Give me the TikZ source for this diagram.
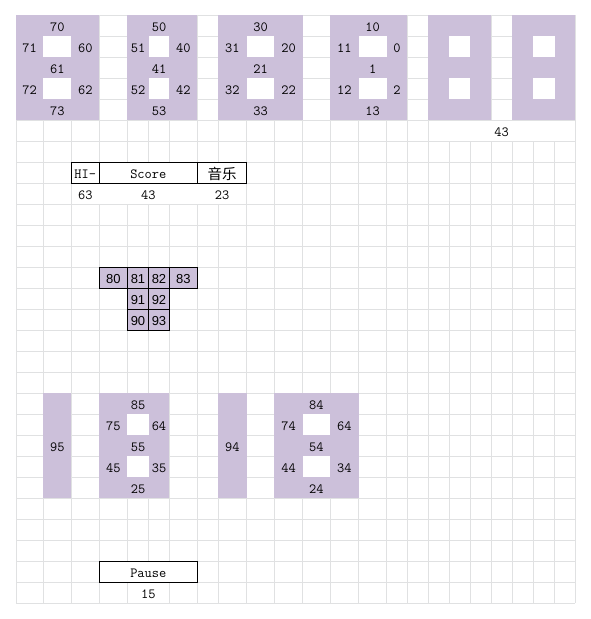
\documentclass[tikz,border=0pt]{standalone}
\usepackage{fontspec}
\usetikzlibrary{calc}
\newfontfamily\cellfont{Latin Modern Mono}
\newfontfamily\blockfont{Liberation Sans}
\newfontfamily\cjkfont{Noto Sans CJK SC}
\definecolor{gridc}{RGB}{224,225,226}
\definecolor{purp}{RGB}{204,192,218}
\tikzset{
  gridline/.style={draw=gridc, line width=1pt},
  seg/.style={fill=purp},
  hole/.style={fill=white},
  erase/.style={fill=white},
  boxline/.style={draw=black, line width=1pt},
  blockcell/.style={fill=purp, draw=black, line width=1pt},
  lbl/.style={anchor=base, inner sep=0pt, text=black, font=\cellfont\fontsize{14}{14}\selectfont},
  blbl/.style={anchor=base, inner sep=0pt, text=black, font=\blockfont\fontsize{13}{13}\selectfont},
  clbl/.style={anchor=base, inner sep=0pt, text=black, font=\cjkfont\fontsize{14.5}{14.5}\selectfont},
}
\newcommand\lab[5]{\node[lbl] (#1) at ($(X#2|-Y#4)!0.5!(X#3|-Y#4)+(0,16.3)$) {#5};}
\newcommand\blab[5]{\node[blbl] (#1) at ($(X#2|-Y#4)!0.5!(X#3|-Y#4)+(0,16.5)$) {#5};}
\begin{document}
\begin{tikzpicture}[x=1pt,y=-1pt]
\useasboundingbox[fill=white] (0,0) rectangle (591,619);
% column edges and row edges
\foreach \v [count=\i from 0] in {16,43.3,71.3,99.3,127.3,148.7,169.3,197.3,218,246.7,274.3,302.7,330,358.7,386.7,407.3,428,449.3,470,491.3,512,533.3,554.7,575.3}
  {\coordinate (X\i) at (\v,0);}
\foreach \j in {0,...,28}
  {\coordinate (Y\j) at (0,{15.3+21*\j});}
% grid
\foreach \i in {0,...,23} {\draw[gridline] (X\i|-Y0) -- (X\i|-Y28);}
\foreach \j in {0,...,28} {\draw[gridline] (X0|-Y\j) -- (X23|-Y\j);}
% merged cells (hide inner grid lines)
\fill[erase] ($(X16|-Y5)+(0.6,0.6)$) rectangle ($(X23|-Y6)+(-0.6,-0.6)$);
\fill[erase] ($(X2|-Y8)+(0.6,0.6)$) rectangle ($(X9|-Y9)+(-0.6,-0.6)$);
\fill[erase] ($(X4|-Y27)+(0.6,0.6)$) rectangle ($(X6|-Y28)+(-0.6,-0.6)$);
% top digits
\foreach \a/\b/\h in {0/3/1,4/7/5,8/11/9,12/15/13,16/19/17,20/23/21}{
  \fill[seg] (X\a|-Y0) rectangle (X\b|-Y5);
  \pgfmathtruncatemacro\hh{\h+1}
  \fill[hole] (X\h|-Y1) rectangle (X\hh|-Y2);
  \fill[hole] (X\h|-Y3) rectangle (X\hh|-Y4);
}
% bottom digits and bars
\fill[seg] (X1|-Y18) rectangle (X2|-Y23);
\fill[seg] (X8|-Y18) rectangle (X9|-Y23);
\foreach \a/\b/\h in {3/6/4,10/13/11}{
  \fill[seg] (X\a|-Y18) rectangle (X\b|-Y23);
  \pgfmathtruncatemacro\hh{\h+1}
  \fill[hole] (X\h|-Y19) rectangle (X\hh|-Y20);
  \fill[hole] (X\h|-Y21) rectangle (X\hh|-Y22);
}
% boxes
\filldraw[boxline, fill=white] (X2|-Y7) rectangle (X3|-Y8);
\filldraw[boxline, fill=white] (X3|-Y7) rectangle (X7|-Y8);
\filldraw[boxline, fill=white] (X7|-Y7) rectangle (X9|-Y8);
\filldraw[boxline, fill=white] (X3|-Y26) rectangle (X7|-Y27);
% block of 80..93
\foreach \c/\r in {3/12,4/12,5/12,6/12,4/13,5/13,4/14,5/14}{
  \pgfmathtruncatemacro\cc{\c+1}
  \pgfmathtruncatemacro\rr{\r+1}
  \filldraw[blockcell] (X\c|-Y\r) rectangle (X\cc|-Y\rr);
}
% labels: digit 1
\lab{t70}{1}{2}{0}{70}\lab{t71}{0}{1}{1}{71}\lab{t60}{2}{3}{1}{60}\lab{t61}{1}{2}{2}{61}
\lab{t72}{0}{1}{3}{72}\lab{t62}{2}{3}{3}{62}\lab{t73}{1}{2}{4}{73}
% digit 2
\lab{t50}{5}{6}{0}{50}\lab{t51}{4}{5}{1}{51}\lab{t40}{6}{7}{1}{40}\lab{t41}{5}{6}{2}{41}
\lab{t52}{4}{5}{3}{52}\lab{t42}{6}{7}{3}{42}\lab{t53}{5}{6}{4}{53}
% digit 3
\lab{t30}{9}{10}{0}{30}\lab{t31}{8}{9}{1}{31}\lab{t20}{10}{11}{1}{20}\lab{t21}{9}{10}{2}{21}
\lab{t32}{8}{9}{3}{32}\lab{t22}{10}{11}{3}{22}\lab{t33}{9}{10}{4}{33}
% digit 4
\lab{t10}{13}{14}{0}{10}\lab{t11}{12}{13}{1}{11}\lab{t0}{14}{15}{1}{0}\lab{t1}{13}{14}{2}{1}
\lab{t12}{12}{13}{3}{12}\lab{t2}{14}{15}{3}{2}\lab{t13}{13}{14}{4}{13}
% row 5
\lab{topscore}{16}{23}{5}{43}
% score boxes
\lab{hi}{2}{3}{7}{HI-}\lab{score}{3}{7}{7}{Score}
\node[clbl] (music) at ($(X7|-Y7)!0.5!(X9|-Y7)+(0,16.8)$) {音乐};
\lab{t63}{2}{3}{8}{63}\lab{scoreval}{3}{7}{8}{43}\lab{t23}{7}{9}{8}{23}
% block labels
\blab{b80}{3}{4}{12}{80}\blab{b81}{4}{5}{12}{81}\blab{b82}{5}{6}{12}{82}\blab{b83}{6}{7}{12}{83}
\blab{b91}{4}{5}{13}{91}\blab{b92}{5}{6}{13}{92}
\blab{b90}{4}{5}{14}{90}\blab{b93}{5}{6}{14}{93}
% bottom labels
\lab{t95}{1}{2}{20}{95}\lab{t94}{8}{9}{20}{94}
\lab{t85}{4}{5}{18}{85}\lab{t75}{3}{4}{19}{75}\lab{t64a}{5}{6}{19}{64}\lab{t55}{4}{5}{20}{55}
\lab{t45}{3}{4}{21}{45}\lab{t35}{5}{6}{21}{35}\lab{t25}{4}{5}{22}{25}
\lab{t84}{11}{12}{18}{84}\lab{t74}{10}{11}{19}{74}\lab{t64b}{12}{13}{19}{64}\lab{t54}{11}{12}{20}{54}
\lab{t44}{10}{11}{21}{44}\lab{t34}{12}{13}{21}{34}\lab{t24}{11}{12}{22}{24}
% pause
\lab{pause}{3}{7}{26}{Pause}\lab{t15}{4}{6}{27}{15}
\end{tikzpicture}
\end{document}
